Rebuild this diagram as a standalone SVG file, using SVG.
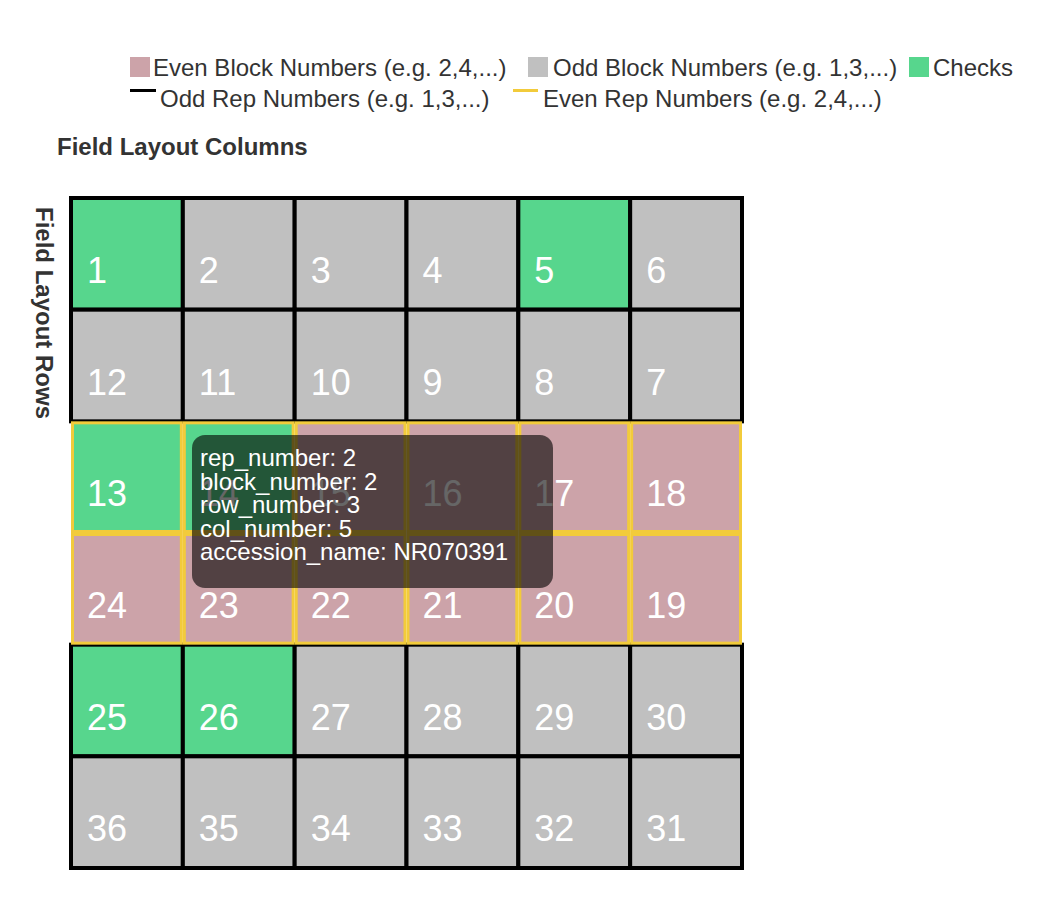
<svg xmlns="http://www.w3.org/2000/svg" width="1046" height="912" viewBox="0 0 1046 912">
<style>
text{font-family:"Liberation Sans",Arial,Helvetica,sans-serif}
.lg{font-size:24px;fill:#333}
.ttl{font-size:24px;font-weight:bold;fill:#333}
.chk{fill:#57d68d}
.odd{fill:#c0c0c0}
.even{fill:#cca3a9}
.r1{stroke:#000;stroke-width:4}
.r2{stroke:#f2cb3b;stroke-width:3}
.num{font-size:36px;fill:#fff}
.tip{font-size:24px;fill:#fff}
</style>
<rect width="1046" height="912" fill="#fff"/>
<g id="legend">
<rect x="130" y="57" width="20" height="20" class="even"/>
<text class="lg" x="153" y="76">Even Block Numbers (e.g. 2,4,...)</text>
<rect x="528" y="57" width="20" height="20" class="odd"/>
<text class="lg" x="553" y="76">Odd Block Numbers (e.g. 1,3,...)</text>
<rect x="909" y="57" width="20" height="20" class="chk"/>
<text class="lg" x="933" y="76">Checks</text>
<line x1="130" y1="90.5" x2="156" y2="90.5" stroke="#000" stroke-width="3"/>
<text class="lg" x="160" y="107">Odd Rep Numbers (e.g. 1,3,...)</text>
<line x1="513" y1="90.5" x2="538" y2="90.5" stroke="#f2cb3b" stroke-width="3"/>
<text class="lg" x="543" y="107">Even Rep Numbers (e.g. 2,4,...)</text>
</g>
<text class="ttl" x="57" y="155">Field Layout Columns</text>
<text class="ttl" transform="translate(36,207) rotate(90)" x="0" y="0">Field Layout Rows</text>
<g id="cells">
<!-- row 1 -->
<g id="plot-1"><rect x="71" y="198" width="111.83" height="111.67" class="chk r1"/><text class="num" x="87" y="283">1</text></g>
<g id="plot-2"><rect x="182.83" y="198" width="111.83" height="111.67" class="odd r1"/><text class="num" x="198.83" y="283">2</text></g>
<g id="plot-3"><rect x="294.67" y="198" width="111.83" height="111.67" class="odd r1"/><text class="num" x="310.67" y="283">3</text></g>
<g id="plot-4"><rect x="406.5" y="198" width="111.83" height="111.67" class="odd r1"/><text class="num" x="422.5" y="283">4</text></g>
<g id="plot-5"><rect x="518.33" y="198" width="111.83" height="111.67" class="chk r1"/><text class="num" x="534.33" y="283">5</text></g>
<g id="plot-6"><rect x="630.17" y="198" width="111.83" height="111.67" class="odd r1"/><text class="num" x="646.17" y="283">6</text></g>
<!-- row 2 -->
<g id="plot-12"><rect x="71" y="309.67" width="111.83" height="111.67" class="odd r1"/><text class="num" x="87" y="394.67">12</text></g>
<g id="plot-11"><rect x="182.83" y="309.67" width="111.83" height="111.67" class="odd r1"/><text class="num" x="198.83" y="394.67">11</text></g>
<g id="plot-10"><rect x="294.67" y="309.67" width="111.83" height="111.67" class="odd r1"/><text class="num" x="310.67" y="394.67">10</text></g>
<g id="plot-9"><rect x="406.5" y="309.67" width="111.83" height="111.67" class="odd r1"/><text class="num" x="422.5" y="394.67">9</text></g>
<g id="plot-8"><rect x="518.33" y="309.67" width="111.83" height="111.67" class="odd r1"/><text class="num" x="534.33" y="394.67">8</text></g>
<g id="plot-7"><rect x="630.17" y="309.67" width="111.83" height="111.67" class="odd r1"/><text class="num" x="646.17" y="394.67">7</text></g>
<!-- row 5 -->
<g id="plot-25"><rect x="71" y="644.67" width="111.83" height="111.67" class="chk r1"/><text class="num" x="87" y="729.67">25</text></g>
<g id="plot-26"><rect x="182.83" y="644.67" width="111.83" height="111.67" class="chk r1"/><text class="num" x="198.83" y="729.67">26</text></g>
<g id="plot-27"><rect x="294.67" y="644.67" width="111.83" height="111.67" class="odd r1"/><text class="num" x="310.67" y="729.67">27</text></g>
<g id="plot-28"><rect x="406.5" y="644.67" width="111.83" height="111.67" class="odd r1"/><text class="num" x="422.5" y="729.67">28</text></g>
<g id="plot-29"><rect x="518.33" y="644.67" width="111.83" height="111.67" class="odd r1"/><text class="num" x="534.33" y="729.67">29</text></g>
<g id="plot-30"><rect x="630.17" y="644.67" width="111.83" height="111.67" class="odd r1"/><text class="num" x="646.17" y="729.67">30</text></g>
<!-- row 6 -->
<g id="plot-36"><rect x="71" y="756.33" width="111.83" height="111.67" class="odd r1"/><text class="num" x="87" y="841.33">36</text></g>
<g id="plot-35"><rect x="182.83" y="756.33" width="111.83" height="111.67" class="odd r1"/><text class="num" x="198.83" y="841.33">35</text></g>
<g id="plot-34"><rect x="294.67" y="756.33" width="111.83" height="111.67" class="odd r1"/><text class="num" x="310.67" y="841.33">34</text></g>
<g id="plot-33"><rect x="406.5" y="756.33" width="111.83" height="111.67" class="odd r1"/><text class="num" x="422.5" y="841.33">33</text></g>
<g id="plot-32"><rect x="518.33" y="756.33" width="111.83" height="111.67" class="odd r1"/><text class="num" x="534.33" y="841.33">32</text></g>
<g id="plot-31"><rect x="630.17" y="756.33" width="111.83" height="111.67" class="odd r1"/><text class="num" x="646.17" y="841.33">31</text></g>
<!-- row 3 (rep 2) -->
<g id="plot-13"><rect x="72.5" y="422.83" width="108.83" height="108.67" class="chk r2"/><text class="num" x="87" y="506.33">13</text></g>
<g id="plot-14"><rect x="184.33" y="422.83" width="108.83" height="108.67" class="chk r2"/><text class="num" x="198.83" y="506.33">14</text></g>
<g id="plot-15"><rect x="296.17" y="422.83" width="108.83" height="108.67" class="even r2"/><text class="num" x="310.67" y="506.33">15</text></g>
<g id="plot-16"><rect x="408" y="422.83" width="108.83" height="108.67" class="even r2"/><text class="num" x="422.5" y="506.33">16</text></g>
<g id="plot-17"><rect x="519.83" y="422.83" width="108.83" height="108.67" class="even r2"/><text class="num" x="534.33" y="506.33">17</text></g>
<g id="plot-18"><rect x="631.67" y="422.83" width="108.83" height="108.67" class="even r2"/><text class="num" x="646.17" y="506.33">18</text></g>
<!-- row 4 (rep 2) -->
<g id="plot-24"><rect x="72.5" y="534.5" width="108.83" height="108.67" class="even r2"/><text class="num" x="87" y="618">24</text></g>
<g id="plot-23"><rect x="184.33" y="534.5" width="108.83" height="108.67" class="even r2"/><text class="num" x="198.83" y="618">23</text></g>
<g id="plot-22"><rect x="296.17" y="534.5" width="108.83" height="108.67" class="even r2"/><text class="num" x="310.67" y="618">22</text></g>
<g id="plot-21"><rect x="408" y="534.5" width="108.83" height="108.67" class="even r2"/><text class="num" x="422.5" y="618">21</text></g>
<g id="plot-20"><rect x="519.83" y="534.5" width="108.83" height="108.67" class="even r2"/><text class="num" x="534.33" y="618">20</text></g>
<g id="plot-19"><rect x="631.67" y="534.5" width="108.83" height="108.67" class="even r2"/><text class="num" x="646.17" y="618">19</text></g>
</g>
<g id="connectors"/>
<g id="tooltip">
<rect x="192" y="435" width="361" height="153" rx="13" fill="#000" fill-opacity="0.6"/>
<text class="tip" x="200" y="466">rep_number: 2</text>
<text class="tip" x="200" y="489.5">block_number: 2</text>
<text class="tip" x="200" y="513">row_number: 3</text>
<text class="tip" x="200" y="536.5">col_number: 5</text>
<text class="tip" x="200" y="560">accession_name: NR070391</text>
</g>
</svg>
